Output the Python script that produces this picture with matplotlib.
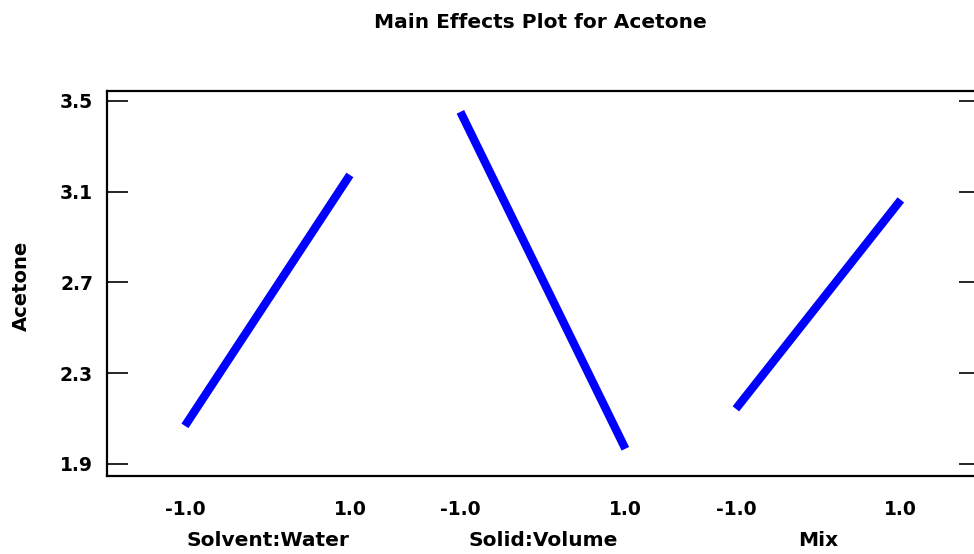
import matplotlib
matplotlib.use("Agg")
import matplotlib.pyplot as plt

factors = ["Solvent:Water", "Solid:Volume", "Mix"]
levels = [-1.0, 1.0]
acetone_means = {
    "Solvent:Water": [2.068, 3.174],
    "Solid:Volume": [3.452, 1.967],
    "Mix": [2.143, 3.064],
}
yticks = [1.9, 2.3, 2.7, 3.1, 3.5]

plt.rcParams['font.family'] = ['DejaVu Sans']
plt.rcParams['font.weight'] = 'bold'

fig = plt.figure(figsize=(9.74, 5.54), dpi=100)
ax = fig.add_axes([107/974, 1-476/554, (980-107)/974, (476-91)/554])

spacing = 3.34
for i, f in enumerate(factors):
    c = i * spacing
    xs = [c + l for l in levels]
    ax.plot(xs, acetone_means[f], color='#0000FF', linewidth=6, solid_capstyle='butt')

xt, xl = [], []
for i, f in enumerate(factors):
    for l in levels:
        xt.append(i * spacing + l)
        xl.append(f"{l:.1f}")
ax.set_xticks(xt)
ax.set_xticklabels(xl, fontsize=13.5, fontweight='bold')
ax.tick_params(axis='x', length=0, pad=17)

ax.set_xlim(-1.945, 8.64)
ax.set_ylim(1.847, 3.544)
ax.set_yticks(yticks)
ax.set_yticklabels([f"{v:.1f}" for v in yticks], fontsize=13.5, fontweight='bold')
ax.tick_params(axis='y', direction='in', length=15, width=1.2, pad=10, right=True)

for s in ax.spines.values():
    s.set_linewidth(1.6)

for i, f in enumerate(factors):
    fig.text((107 + (i * spacing + 1.945) * 82.5) / 974, 1 - 541/554, f,
             ha='center', va='center', fontsize=14.5, fontweight='bold')

fig.text(21/974, 1 - 286/554, "Acetone", rotation=90, ha='center', va='center',
         fontsize=14, fontweight='bold')
fig.text(540/974, 1 - 23/554, "Main Effects Plot for Acetone", ha='center', va='center',
         fontsize=14.5, fontweight='bold')

fig.savefig("out.png", dpi=100)
